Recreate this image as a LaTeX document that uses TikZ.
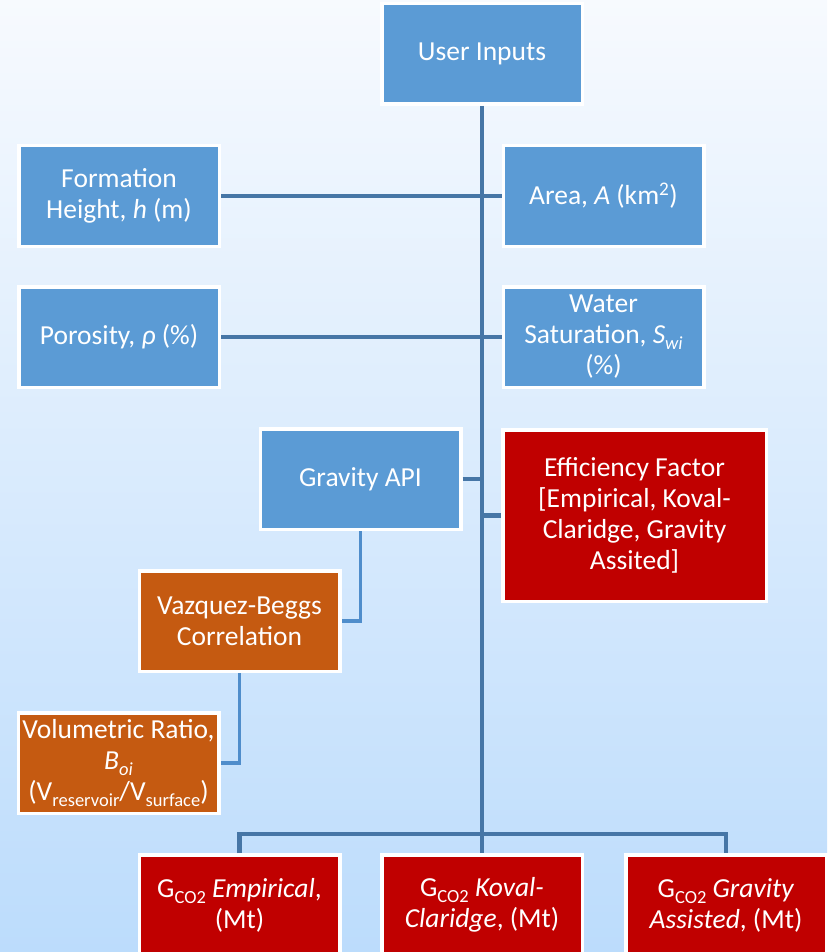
\documentclass[tikz,border=0pt]{standalone}
\usepackage{fontspec}
\setmainfont{Carlito}
\definecolor{boxblue}{HTML}{5B9BD5}
\definecolor{boxorange}{HTML}{C55A11}
\definecolor{boxred}{HTML}{C00000}
\definecolor{trunkc}{HTML}{4676A6}
\definecolor{lightc}{HTML}{4F8DCB}
\definecolor{bgtop}{HTML}{F7FAFE}
\definecolor{bgbot}{HTML}{BCDCFC}
\newcommand\mysub[1]{\raisebox{-0.22em}{\fontsize{18.5}{18.5}\selectfont #1}}
\tikzset{
  box/.style={draw=white, line width=3.5pt, inner sep=1pt, align=center, text=white,
    font=\fontsize{27.5}{31}\selectfont, minimum width=200.5pt, minimum height=100.5pt},
  bluebox/.style={box, fill=boxblue},
  orangebox/.style={box, fill=boxorange},
  redbox/.style={box, fill=boxred},
  trunk/.style={draw=trunkc, line width=4.5pt},
  light/.style={draw=lightc, line width=3.5pt}
}
\begin{document}
\begin{tikzpicture}[x=1pt,y=-1pt]
\useasboundingbox (0,0) rectangle (827,952);
\shade[top color=bgtop, bottom color=bgbot] (0,0) rectangle (827,952);
% nodes
\node[bluebox] (ui) at (482,54) {User Inputs};
\node[bluebox] (fh) at (119,196) {Formation\\Height, \textit{h} (m)};
\node[bluebox] (ar) at (603.5,196) {Area, \textit{A} (km\textsuperscript{2})};
\node[bluebox] (po) at (119,337) {Porosity, \textit{ρ} (\%)};
\node[bluebox] (ws) at (603.5,337) {Water\\Saturation, \textit{S}\mysub{\textit{wi}}\\(\%)};
\node[bluebox] (ga) at (360.5,479) {Gravity API};
\node[redbox, minimum width=263.5pt, minimum height=171.5pt] (ef) at (634.5,515.5)
  {Efficiency Factor\\{[}Empirical, Koval-\\Claridge, Gravity\\Assited]};
\node[orangebox] (vb) at (239.5,621) {Vazquez-Beggs\\Correlation};
\node[orangebox] (vr) at (118.5,763) {Volumetric Ratio,\\\textit{B}\mysub{\textit{oi}}\\(V\mysub{reservoir}/V\mysub{surface})};
\node[redbox] (g1) at (239.5,905) {G\mysub{CO2} \textit{Empirical},\\(Mt)};
\node[redbox] (g2) at (482,905) {G\mysub{CO2} \textit{Koval-}\\\textit{Claridge}, (Mt)};
\node[redbox] (g3) at (726,905) {G\mysub{CO2} \textit{Gravity}\\\textit{Assisted}, (Mt)};
% junction coordinates
\coordinate (jb) at (482,834);
\coordinate (jg) at (482,479);
\coordinate (je) at (482,515.5);
% connectors
\draw[trunk] (ui.south) -- (jb);
\draw[trunk] (fh.east) -- (ar.west);
\draw[trunk] (po.east) -- (ws.west);
\draw[trunk] (ga.east) -- (jg);
\draw[trunk] (je) -- (ef.west);
\draw[trunk] (g1.north) |- (jb) -| (g3.north);
\draw[trunk] (jb) -- (g2.north);
\draw[light] (ga.south) |- (vb.east);
\draw[light] (vb.south) |- (vr.east);
\end{tikzpicture}
\end{document}
